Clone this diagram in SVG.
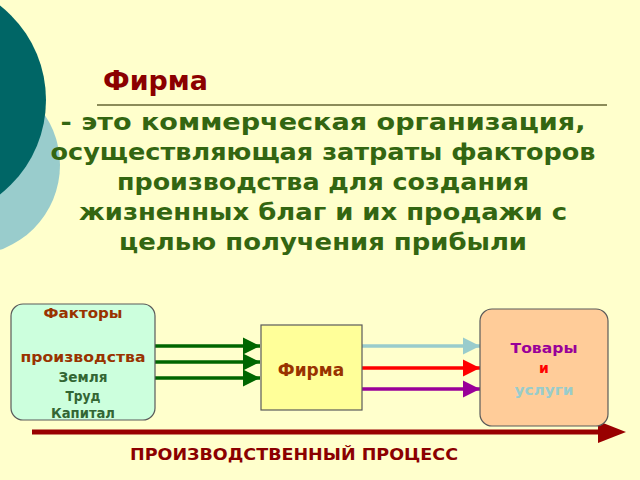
<svg xmlns="http://www.w3.org/2000/svg" width="640" height="480" viewBox="0 0 640 480">
<defs>
<style>
text{font-family:"DejaVu Sans","Verdana",sans-serif;font-weight:bold;text-anchor:middle}
.body{fill:#336611;font-size:23px}
.box{stroke:#5a5a5a;stroke-width:1.2}
.small{font-size:14px}
</style>
<marker id="ag" viewBox="0 0 10 10" refX="10" refY="5" markerWidth="5" markerHeight="5" markerUnits="strokeWidth" orient="auto"><path d="M0,0 L10,5 L0,10 z" fill="#006600"/></marker>
<marker id="ab" viewBox="0 0 10 10" refX="10" refY="5" markerWidth="5" markerHeight="5" markerUnits="strokeWidth" orient="auto"><path d="M0,0 L10,5 L0,10 z" fill="#99CCCC"/></marker>
<marker id="ar" viewBox="0 0 10 10" refX="10" refY="5" markerWidth="5" markerHeight="5" markerUnits="strokeWidth" orient="auto"><path d="M0,0 L10,5 L0,10 z" fill="#FF0000"/></marker>
<marker id="ap" viewBox="0 0 10 10" refX="10" refY="5" markerWidth="5" markerHeight="5" markerUnits="strokeWidth" orient="auto"><path d="M0,0 L10,5 L0,10 z" fill="#990099"/></marker>
</defs>
<rect width="640" height="480" fill="#FFFFCC"/>
<circle cx="-30" cy="165" r="90" fill="#99CCCC"/>
<circle cx="-74" cy="100" r="120" fill="#006666"/>
<text x="103" y="90" fill="#8B0000" font-size="27" textLength="105" lengthAdjust="spacingAndGlyphs" style="text-anchor:start">Фирма</text>
<line x1="97" y1="105" x2="607" y2="105" stroke="#666633" stroke-width="1.5"/>
<g class="body">
<text x="323" y="130" textLength="525" lengthAdjust="spacingAndGlyphs">- это коммерческая организация,</text>
<text x="323" y="160" textLength="545" lengthAdjust="spacingAndGlyphs">осуществляющая затраты факторов</text>
<text x="323" y="190" textLength="412" lengthAdjust="spacingAndGlyphs">производства для создания</text>
<text x="323" y="220" textLength="488" lengthAdjust="spacingAndGlyphs">жизненных благ и их продажи с</text>
<text x="323" y="250" textLength="408" lengthAdjust="spacingAndGlyphs">целью получения прибыли</text>
</g>
<g id="connectors">
<line x1="155" y1="346" x2="260" y2="346" stroke="#006600" stroke-width="3.5" marker-end="url(#ag)"/>
<line x1="155" y1="362" x2="260" y2="362" stroke="#006600" stroke-width="3.5" marker-end="url(#ag)"/>
<line x1="155" y1="378" x2="260" y2="378" stroke="#006600" stroke-width="3.5" marker-end="url(#ag)"/>
<line x1="362" y1="346" x2="480" y2="346" stroke="#99CCCC" stroke-width="3.5" marker-end="url(#ab)"/>
<line x1="362" y1="368" x2="480" y2="368" stroke="#FF0000" stroke-width="3.5" marker-end="url(#ar)"/>
<line x1="362" y1="389" x2="480" y2="389" stroke="#990099" stroke-width="3.5" marker-end="url(#ap)"/>
<line x1="32" y1="432" x2="600" y2="432" stroke="#990000" stroke-width="5"/>
<path d="M598,421 L626,432 L598,443 z" fill="#990000"/>
</g>
<g id="factors">
<rect class="box" x="11" y="304" width="144" height="116" rx="12" fill="#CCFFDD"/>
<text class="small" x="83" y="318" fill="#993300" textLength="79" lengthAdjust="spacingAndGlyphs">Факторы</text>
<text class="small" x="83" y="362" fill="#993300" textLength="125" lengthAdjust="spacingAndGlyphs">производства</text>
<text class="small" x="83" y="382" fill="#336633" textLength="49" lengthAdjust="spacingAndGlyphs">Земля</text>
<text class="small" x="83" y="401" fill="#336633" textLength="35" lengthAdjust="spacingAndGlyphs">Труд</text>
<text class="small" x="83" y="418" fill="#336633" textLength="64" lengthAdjust="spacingAndGlyphs">Капитал</text>
</g>
<g id="firm">
<rect class="box" x="261" y="325" width="101" height="85" fill="#FFFF99"/>
<text x="311" y="376" fill="#993300" font-size="17">Фирма</text>
</g>
<g id="goods">
<rect class="box" x="480" y="309" width="128" height="117" rx="12" fill="#FFCC99"/>
<text class="small" x="544" y="353" fill="#990099" textLength="67" lengthAdjust="spacingAndGlyphs">Товары</text>
<text class="small" x="544" y="373" fill="#FF0000">и</text>
<text class="small" x="544" y="395" fill="#99CCCC" textLength="59" lengthAdjust="spacingAndGlyphs">услуги</text>
</g>
<text x="294" y="460" fill="#8B0000" font-size="16" textLength="328" lengthAdjust="spacingAndGlyphs">ПРОИЗВОДСТВЕННЫЙ ПРОЦЕСС</text>
</svg>
